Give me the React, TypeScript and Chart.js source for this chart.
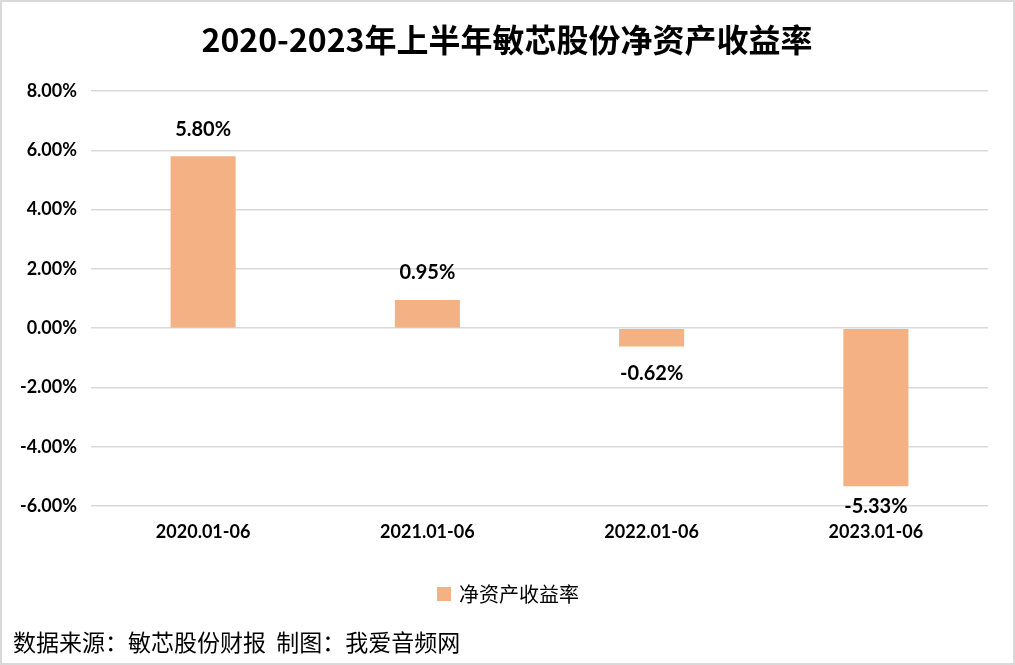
import React, { useEffect, useRef } from "react";
import { Chart, registerables } from "chart.js";

Chart.register(...registerables);

const categories = ["2020.01-06", "2021.01-06", "2022.01-06", "2023.01-06"];
const roeValues = [5.8, 0.95, -0.62, -5.33];
const seriesName = "净资产收益率";
const titleText = "2020-2023年上半年敏芯股份净资产收益率";
const sourceText = "数据来源：敏芯股份财报  制图：我爱音频网";
const yMin = -6;
const yMax = 8;
const yStep = 2;

const BAR_COLOR = "#F4B183";
const GRID_COLOR = "#D9D9D9";
const LATIN = "Lato, 'Noto Sans', sans-serif";
const CJK = "'Noto Sans CJK SC', sans-serif";

const W = 1015;
const H = 665;

const decorPlugin = {
  id: "decor",
  beforeDraw(chart: any) {
    const ctx = chart.ctx;
    ctx.save();
    ctx.fillStyle = "#ffffff";
    ctx.fillRect(0, 0, chart.width, chart.height);
    ctx.restore();
  },
  afterDatasetsDraw(chart: any) {
    const ctx = chart.ctx;
    const area = chart.chartArea;
    const meta = chart.getDatasetMeta(0);
    const data = chart.data.datasets[0].data as number[];
    ctx.save();
    ctx.fillStyle = "#000000";
    ctx.font = `bold 20px ${LATIN}`;
    ctx.textAlign = "center";
    ctx.textBaseline = "middle";
    meta.data.forEach((el: any, i: number) => {
      const v = data[i];
      let y: number;
      if (v >= 0) y = el.y - 27;
      else y = Math.min(el.y + 27, area.bottom + 1);
      ctx.fillText(v.toFixed(2) + "%", el.x, y);
    });
    ctx.restore();
  },
  afterDraw(chart: any) {
    const ctx = chart.ctx;
    ctx.save();
    // title
    ctx.fillStyle = "#000000";
    ctx.font = `bold 32px ${CJK}`;
    ctx.textAlign = "center";
    ctx.textBaseline = "middle";
    ctx.fillText(titleText, 507, 40);
    // legend
    const ds = chart.data.datasets[0];
    ctx.fillStyle = ds.backgroundColor;
    ctx.fillRect(437, 587, 14, 14);
    ctx.fillStyle = "#000000";
    ctx.font = `20px ${CJK}`;
    ctx.textAlign = "left";
    ctx.fillText(ds.label, 459, 594);
    // source
    ctx.font = `23px ${CJK}`;
    ctx.fillText(sourceText, 13, 642);
    ctx.restore();
  },
};

export default function App() {
  const canvasRef = useRef<HTMLCanvasElement | null>(null);

  useEffect(() => {
    const canvas = canvasRef.current;
    if (!canvas) return;
    const chart = new Chart(canvas, {
      type: "bar",
      data: {
        labels: categories,
        datasets: [
          {
            label: seriesName,
            data: roeValues,
            backgroundColor: BAR_COLOR,
            borderWidth: 0,
            barPercentage: 0.29,
            categoryPercentage: 1,
          },
        ],
      },
      options: {
        responsive: false,
        animation: false,
        devicePixelRatio: 1,
        layout: { padding: { top: 91, right: 27, bottom: 119, left: 0 } },
        plugins: {
          legend: { display: false },
          title: { display: false },
          tooltip: { enabled: false },
        },
        scales: {
          x: {
            grid: { display: false, drawTicks: false },
            border: { display: false },
            ticks: {
              color: "#000000",
              font: { family: LATIN, size: 18, weight: "bold" },
              padding: 15,
              maxRotation: 0,
            },
            afterFit: (s: any) => {
              s.height = 40;
            },
          },
          y: {
            min: yMin,
            max: yMax,
            grid: { color: GRID_COLOR, lineWidth: 1.5, drawTicks: false },
            border: { display: false },
            ticks: {
              stepSize: yStep,
              color: "#000000",
              font: { family: LATIN, size: 18, weight: "bold" },
              padding: 14,
              callback: (v: any) => Number(v).toFixed(2) + "%",
            },
            afterFit: (s: any) => {
              s.width = 91;
            },
          },
        },
      },
      plugins: [decorPlugin],
    });
    return () => chart.destroy();
  }, []);

  return (
    <div style={{ position: "fixed", top: 0, left: 0, width: W, height: H, background: "#fff" }}>
      <canvas ref={canvasRef} width={W} height={H} style={{ display: "block", width: W, height: H }} />
      <div
        style={{
          position: "absolute",
          inset: 0,
          border: "2px solid #D9D9D9",
          boxSizing: "border-box",
          pointerEvents: "none",
        }}
      />
    </div>
  );
}
